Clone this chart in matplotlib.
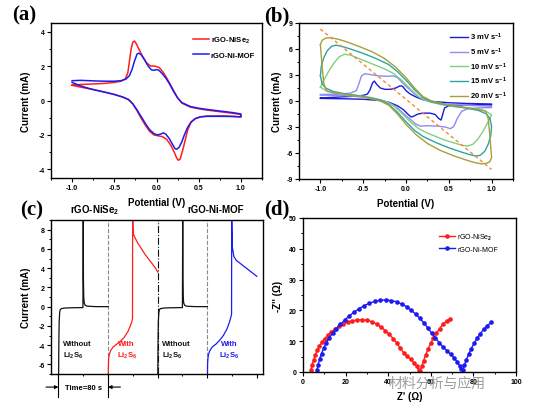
"""
plot.py
=======
Four-panel figure: CV curves, scan-rate CVs, Li2S6 nucleation current, EIS.
"""

import numpy as np
import matplotlib
matplotlib.use("Agg")
import matplotlib.pyplot as plt
from matplotlib.ticker import MultipleLocator, FormatStrFormatter, NullFormatter

# ---------------- data ----------------
# (a) CV loops, (potential V, current mA)
cv_nise2 = np.array([
    (-1.00, 0.90), (-0.90, 0.93), (-0.80, 0.95), (-0.70, 0.97), (-0.60, 1.00), (-0.50, 1.05),
    (-0.42, 1.12), (-0.37, 1.25), (-0.34, 1.60), (-0.32, 2.30), (-0.30, 3.00), (-0.28, 3.40),
    (-0.26, 3.45), (-0.24, 3.30), (-0.21, 3.00), (-0.17, 2.60), (-0.12, 2.20), (-0.07, 2.00),
    (-0.02, 2.00), (0.03, 1.92), (0.07, 1.70), (0.11, 1.40), (0.15, 1.05), (0.20, 0.60),
    (0.25, 0.15), (0.30, -0.15), (0.40, -0.38), (0.50, -0.48), (0.60, -0.56), (0.70, -0.62),
    (0.80, -0.68), (0.90, -0.74), (0.98, -0.80), (1.00, -0.85),
    (1.00, -0.95), (0.90, -0.92), (0.80, -0.90), (0.70, -0.90), (0.60, -0.90), (0.52, -0.95),
    (0.46, -1.05), (0.41, -1.25), (0.37, -1.70), (0.34, -2.30), (0.31, -2.90), (0.28, -3.40),
    (0.26, -3.47), (0.24, -3.35), (0.21, -3.00), (0.17, -2.60), (0.12, -2.25), (0.07, -2.10),
    (0.02, -2.05), (-0.03, -2.00), (-0.08, -1.80), (-0.13, -1.45), (-0.18, -1.05), (-0.23, -0.60),
    (-0.28, -0.20), (-0.33, 0.05), (-0.40, 0.20), (-0.50, 0.35), (-0.60, 0.47), (-0.70, 0.58),
    (-0.80, 0.68), (-0.90, 0.78), (-1.00, 0.88),
])
cv_mof = np.array([
    (-1.00, 1.15), (-0.90, 1.17), (-0.80, 1.15), (-0.70, 1.13), (-0.60, 1.12), (-0.50, 1.12),
    (-0.42, 1.15), (-0.36, 1.25), (-0.32, 1.45), (-0.29, 1.80), (-0.26, 2.30), (-0.23, 2.70),
    (-0.21, 2.75), (-0.18, 2.65), (-0.14, 2.35), (-0.10, 2.00), (-0.06, 1.78), (-0.03, 1.75),
    (0.00, 1.80), (0.03, 1.75), (0.07, 1.55), (0.11, 1.30), (0.15, 1.00), (0.20, 0.55),
    (0.25, 0.15), (0.30, -0.12), (0.40, -0.35), (0.50, -0.45), (0.60, -0.52), (0.70, -0.58),
    (0.80, -0.64), (0.90, -0.70), (1.00, -0.78),
    (1.00, -0.95), (0.90, -0.93), (0.80, -0.92), (0.70, -0.92), (0.60, -0.92), (0.52, -0.95),
    (0.46, -1.05), (0.41, -1.25), (0.37, -1.55), (0.33, -2.00), (0.30, -2.40), (0.27, -2.70),
    (0.24, -2.83), (0.22, -2.80), (0.19, -2.55), (0.15, -2.20), (0.11, -1.95), (0.08, -1.88),
    (0.05, -1.95), (0.01, -2.00), (-0.03, -1.92), (-0.08, -1.70), (-0.13, -1.35), (-0.18, -0.95),
    (-0.23, -0.55), (-0.28, -0.20), (-0.33, 0.05), (-0.40, 0.20), (-0.50, 0.35), (-0.60, 0.47),
    (-0.70, 0.58), (-0.80, 0.70), (-0.90, 0.85), (-1.00, 1.05),
])

# (b) CV loops at different scan rates
cv_3 = np.array([
    (-1.00, 0.35), (-0.80, 0.45), (-0.60, 0.55), (-0.50, 0.65), (-0.45, 0.80), (-0.42, 1.30),
    (-0.39, 2.10), (-0.37, 2.30), (-0.34, 1.90), (-0.30, 1.50), (-0.25, 1.35), (-0.18, 1.35),
    (-0.12, 1.50), (-0.07, 1.75), (-0.04, 1.70), (0.00, 1.20), (0.05, 0.80), (0.12, 0.45),
    (0.20, 0.15), (0.30, -0.05), (0.50, -0.20), (0.70, -0.28), (1.00, -0.35),
    (1.00, -0.45), (0.80, -0.48), (0.60, -0.50), (0.50, -0.55), (0.45, -0.80), (0.43, -1.50),
    (0.41, -2.20), (0.38, -2.00), (0.34, -1.55), (0.28, -1.40), (0.20, -1.40), (0.14, -1.50),
    (0.09, -1.75), (0.06, -1.85), (0.02, -1.50), (-0.03, -1.00), (-0.10, -0.55), (-0.20, -0.15),
    (-0.30, 0.05), (-0.50, 0.20), (-0.70, 0.25), (-1.00, 0.30),
])
cv_5 = np.array([
    (-1.00, 0.75), (-0.80, 0.80), (-0.65, 0.90), (-0.58, 1.20), (-0.55, 2.00), (-0.52, 2.90),
    (-0.48, 3.15), (-0.42, 3.05), (-0.32, 2.90), (-0.22, 2.85), (-0.15, 2.90), (-0.10, 2.70),
    (-0.05, 2.20), (0.00, 1.70), (0.10, 0.80), (0.20, 0.15), (0.30, -0.15), (0.50, -0.40),
    (0.70, -0.50), (1.00, -0.60),
    (1.00, -0.75), (0.85, -0.80), (0.72, -0.90), (0.65, -1.20), (0.60, -2.00), (0.56, -2.90),
    (0.52, -3.20), (0.46, -3.00), (0.36, -2.90), (0.25, -2.85), (0.17, -2.90), (0.12, -2.70),
    (0.06, -2.20), (0.00, -1.70), (-0.10, -0.80), (-0.20, -0.20), (-0.30, 0.15), (-0.50, 0.45),
    (-0.70, 0.60), (-1.00, 0.70),
])
cv_10 = np.array([
    (-1.00, 1.60), (-0.96, 2.40), (-0.90, 3.50), (-0.84, 4.40), (-0.78, 5.10), (-0.72, 5.40),
    (-0.65, 5.30), (-0.55, 4.90), (-0.45, 4.50), (-0.35, 4.10), (-0.25, 3.70), (-0.15, 3.20),
    (-0.05, 2.40), (0.05, 1.40), (0.15, 0.50), (0.25, 0.00), (0.40, -0.40), (0.60, -0.70),
    (0.80, -0.90), (0.92, -1.10), (1.00, -1.60),
    (0.96, -2.40), (0.90, -3.50), (0.84, -4.40), (0.78, -5.00), (0.72, -5.20), (0.65, -5.10),
    (0.55, -4.80), (0.45, -4.50), (0.35, -4.10), (0.25, -3.70), (0.15, -3.20), (0.05, -2.40),
    (-0.05, -1.40), (-0.15, -0.50), (-0.25, 0.00), (-0.40, 0.40), (-0.60, 0.70), (-0.80, 0.90),
    (-0.92, 1.10), (-1.00, 1.60),
])
cv_15 = np.array([
    (-1.00, 2.90), (-0.99, 4.00), (-0.96, 5.00), (-0.92, 5.80), (-0.87, 6.30), (-0.82, 6.45),
    (-0.75, 6.30), (-0.65, 6.00), (-0.50, 5.50), (-0.35, 4.90), (-0.20, 4.20), (-0.10, 3.40),
    (0.00, 2.40), (0.10, 1.30), (0.20, 0.40), (0.30, -0.10), (0.50, -0.50), (0.70, -0.80),
    (0.85, -1.10), (0.94, -1.50), (0.98, -2.00), (1.00, -2.90),
    (0.99, -4.00), (0.96, -5.00), (0.92, -5.80), (0.87, -6.25), (0.82, -6.35), (0.75, -6.20),
    (0.65, -5.90), (0.50, -5.40), (0.35, -4.80), (0.20, -4.10), (0.10, -3.40), (0.00, -2.40),
    (-0.10, -1.30), (-0.20, -0.40), (-0.30, 0.10), (-0.50, 0.50), (-0.70, 0.80), (-0.85, 1.10),
    (-0.94, 1.50), (-0.98, 2.00), (-1.00, 2.90),
])
cv_20 = np.array([
    (-1.00, 6.50), (-0.98, 7.00), (-0.94, 7.25), (-0.88, 7.30), (-0.80, 7.15), (-0.70, 6.85),
    (-0.55, 6.30), (-0.40, 5.70), (-0.25, 4.90), (-0.12, 3.90), (0.00, 2.70), (0.10, 1.50),
    (0.20, 0.50), (0.30, 0.00), (0.50, -0.45), (0.70, -0.75), (0.85, -0.95), (0.93, -1.20),
    (0.96, -2.00), (0.98, -4.00), (1.00, -6.50),
    (0.98, -7.00), (0.94, -7.20), (0.88, -7.25), (0.80, -7.10), (0.70, -6.80), (0.55, -6.30),
    (0.40, -5.70), (0.25, -4.90), (0.12, -3.90), (0.00, -2.70), (-0.10, -1.50), (-0.20, -0.50),
    (-0.30, 0.00), (-0.50, 0.45), (-0.70, 0.75), (-0.85, 0.95), (-0.93, 1.20), (-0.96, 2.00),
    (-0.98, 4.00), (-1.00, 6.50),
])
scan_rates = [3, 5, 10, 15, 20]
peak_guide_x = [-1.0, 1.0]
peak_guide_y = [8.3, -7.9]

# (c) current (mA) vs time (s), four 80 s windows
ca_t1 = [0.3, 0.5, 0.8, 1.2, 2.0, 3.0, 5.0, 10, 20, 39.5, 40.0, 40.3, 40.8, 41.5, 43, 46, 60, 80]
ca_i1 = [-7.2, -5.0, -3.0, -1.5, -0.6, -0.3, -0.2, -0.15, -0.12, -0.1, 9.5, 3.0, 1.0, 0.4, 0.15, 0.05, 0.0, 0.0]
ca_t2 = [80.4, 80.6, 81, 82, 84, 88, 94, 100, 106, 112, 116, 118.5, 119.5, 119.7, 120.5,
         124, 128, 134, 140, 146, 152, 158, 160]
ca_i2 = [-7.2, -6.0, -5.4, -5.0, -4.6, -4.2, -3.9, -3.6, -3.2, -2.6, -2.0, -1.55, -1.2, 9.5, 7.6,
         7.1, 6.6, 6.0, 5.4, 4.9, 4.4, 3.85, 3.6]
ca_t3 = [160.3, 160.5, 160.8, 161.2, 162, 163, 165, 170, 180, 200.0, 200.5, 200.8, 201.3, 202,
         203.5, 206, 220, 240]
ca_i3 = [-7.2, -5.0, -3.0, -1.5, -0.6, -0.3, -0.2, -0.15, -0.12, -0.1, 9.5, 3.0, 1.0, 0.4, 0.15,
         0.05, 0.0, 0.0]
ca_t4 = [240.4, 240.6, 241, 242, 244, 248, 254, 260, 266, 272, 276, 278.5, 279.3, 279.5, 280.5,
         283, 287, 291, 297, 303, 309, 315, 320]
ca_i4 = [-7.2, -6.0, -5.5, -5.0, -4.6, -4.2, -3.9, -3.5, -3.0, -2.3, -1.6, -1.0, -0.8, 9.5, 6.2,
         5.2, 4.8, 4.6, 4.3, 4.0, 3.7, 3.4, 3.15]
window_edges = [80, 160, 240]

# (d) Nyquist plots, (Z' ohm, -Z'' ohm)
eis_nise2 = np.array([
    (3.8, 0.8), (4.3, 2.4), (5.0, 4.0), (5.8, 5.6), (6.7, 7.0), (7.7, 8.3), (8.8, 9.6),
    (10.1, 10.8), (11.6, 11.9), (13.2, 12.9), (15.0, 13.9), (16.9, 14.8), (18.9, 15.6),
    (21.0, 16.2), (23.2, 16.6), (25.5, 16.9), (27.8, 17.0), (30.1, 16.8), (32.4, 16.3),
    (34.6, 15.6), (36.7, 14.6), (38.7, 13.4), (40.6, 12.2), (42.4, 10.8), (44.1, 9.3),
    (45.7, 7.7), (47.3, 6.2), (49.0, 5.1), (50.5, 4.1), (52.0, 3.0), (53.3, 1.8), (54.3, 0.8),
    (55.0, 0.3), (55.8, 1.8), (56.6, 3.6), (57.6, 5.6), (58.7, 7.5), (59.9, 9.3), (61.2, 11.0),
    (62.6, 12.6), (64.1, 14.1), (65.7, 15.5), (67.4, 16.6), (69.0, 17.3),
])
eis_mof = np.array([
    (6.6, 0.7), (7.1, 2.4), (7.8, 4.2), (8.7, 6.0), (9.7, 7.7), (10.9, 9.4), (12.3, 11.0),
    (13.9, 12.6), (15.7, 14.1), (17.6, 15.5), (19.6, 16.9), (21.7, 18.2), (23.9, 19.4),
    (26.2, 20.5), (28.6, 21.5), (31.1, 22.3), (33.6, 22.9), (36.2, 23.3), (38.8, 23.4),
    (41.4, 23.2), (43.9, 22.8), (46.3, 22.1), (48.6, 21.2), (50.8, 20.1), (52.9, 18.8),
    (54.9, 17.4), (56.8, 15.9), (58.6, 14.3), (60.4, 12.6), (62.2, 11.0), (64.0, 9.5),
    (65.8, 8.1), (67.6, 6.9), (69.3, 5.8), (70.9, 4.6), (72.4, 3.3), (73.5, 2.0), (74.3, 0.9),
    (75.0, 0.5), (75.8, 2.2), (76.7, 4.0), (77.8, 5.8), (79.0, 7.6), (80.3, 9.3), (81.7, 10.9),
    (83.2, 12.4), (84.8, 13.8), (86.5, 15.0), (88.3, 16.1),
])

# ---------------- style ----------------
plt.rcParams["font.family"] = ["Liberation Sans", "DejaVu Sans"]
plt.rcParams["font.weight"] = "bold"
plt.rcParams["axes.labelweight"] = "bold"
plt.rcParams["axes.unicode_minus"] = False
plt.rcParams["mathtext.fontset"] = "custom"
plt.rcParams["mathtext.default"] = "bf"
plt.rcParams["mathtext.bf"] = "Liberation Sans:bold"
plt.rcParams["mathtext.rm"] = "Liberation Sans:bold"
plt.rcParams["axes.linewidth"] = 1.0

RED = "#ff1c1c"
BLUE = "#1c1cf0"
RATE_COLORS = ["#1a1ad8", "#8c8cf2", "#80cf80", "#2fa3a0", "#a6a03c"]
TICK_FS = 5
LABEL_FS = 7


def style_axes(ax, xmaj, xmin, ymaj, ymin):
    ax.xaxis.set_major_locator(MultipleLocator(xmaj))
    ax.xaxis.set_minor_locator(MultipleLocator(xmin))
    ax.yaxis.set_major_locator(MultipleLocator(ymaj))
    ax.yaxis.set_minor_locator(MultipleLocator(ymin))
    ax.tick_params(which="major", direction="out", length=3, width=0.8,
                   labelsize=TICK_FS, pad=1.5)
    ax.tick_params(which="minor", direction="out", length=1.6, width=0.7)


fig = plt.figure(figsize=(5.33, 4.10), dpi=100)
W, H = 533.0, 410.0


def add_axes_px(left, top, right, bottom):
    return fig.add_axes([left / W, 1 - bottom / H, (right - left) / W, (bottom - top) / H])


# ---------------- (a) ----------------
ax_a = add_axes_px(51, 24, 262, 179)
ax_a.plot(cv_nise2[:, 0], cv_nise2[:, 1], color=RED, lw=1.1, label="rGO-NiSe$_2$")
ax_a.plot(cv_mof[:, 0], cv_mof[:, 1], color=BLUE, lw=1.1, label="rGO-Ni-MOF")
ax_a.set_xlim(-1.25, 1.25)
ax_a.set_ylim(-4.5, 4.5)
style_axes(ax_a, 0.5, 0.25, 2, 1)
ax_a.xaxis.set_major_formatter(FormatStrFormatter("%.1f"))
ax_a.set_xlabel("Potential (V)", fontsize=LABEL_FS, labelpad=4)
ax_a.set_ylabel("Current (mA)", fontsize=LABEL_FS, labelpad=5)
ax_a.legend(loc="upper left", bbox_to_anchor=(0.675, 0.925), frameon=False, fontsize=5.5,
            handlelength=2.0, handletextpad=0.3, labelspacing=0.9, borderpad=0, borderaxespad=0)

# ---------------- (b) ----------------
ax_b = add_axes_px(299, 24, 513, 180)
for loop, rate, col in zip([cv_3, cv_5, cv_10, cv_15, cv_20], scan_rates, RATE_COLORS):
    ax_b.plot(loop[:, 0], loop[:, 1], color=col, lw=1.0, label=f"{rate} mV s$^{{-1}}$")
ax_b.plot(peak_guide_x, peak_guide_y, color="#f28a35", lw=1.0, ls=(0, (2.5, 2)))
ax_b.set_xlim(-1.25, 1.25)
ax_b.set_ylim(-9, 9)
style_axes(ax_b, 0.5, 0.25, 3, 1.5)
ax_b.xaxis.set_major_formatter(FormatStrFormatter("%.1f"))
ax_b.set_xlabel("Potential (V)", fontsize=LABEL_FS, labelpad=4)
ax_b.set_ylabel("Current (mA)", fontsize=LABEL_FS, labelpad=3)
ax_b.legend(loc="upper left", bbox_to_anchor=(0.705, 0.95), frameon=False, fontsize=5.5,
            handlelength=2.4, handletextpad=0.3, labelspacing=0.45, borderpad=0, borderaxespad=0)

# ---------------- (c) ----------------
ax_c = add_axes_px(51, 221, 263, 375)
ax_c.plot(ca_t1, ca_i1, color="#111111", lw=0.9)
ax_c.plot(ca_t2, ca_i2, color=RED, lw=0.9)
ax_c.plot(ca_t3, ca_i3, color="#111111", lw=0.9)
ax_c.plot(ca_t4, ca_i4, color=BLUE, lw=0.9)
for edge, style, col in zip(window_edges, ["--", "-.", "--"], ["#8a8a8a", "#111111", "#8a8a8a"]):
    ax_c.axvline(edge, color=col, ls=style, lw=0.8, zorder=0)
ax_c.set_xlim(-12, 330)
ax_c.set_ylim(-7, 9)
style_axes(ax_c, 80, 40, 2, 1)
ax_c.xaxis.set_major_formatter(NullFormatter())
ax_c.set_ylabel("Current (mA)", fontsize=LABEL_FS, labelpad=5)

trans_c = ax_c.get_xaxis_transform()
ax_c.text(59, 1.07, "rGO-NiSe$_2$", transform=trans_c, ha="center", va="center", fontsize=7)
ax_c.text(253, 1.07, "rGO-Ni-MOF", transform=trans_c, ha="center", va="center", fontsize=7)
ax_c.text(7, -4.5, "Without\nLi$_2$S$_6$", color="#111111", fontsize=5.5, ha="left", va="center",
          linespacing=1.5)
ax_c.text(110, -4.5, "With\nLi$_2$S$_6$", color=RED, fontsize=5.5, ha="center", va="center",
          linespacing=1.5)
ax_c.text(167, -4.5, "Without\nLi$_2$S$_6$", color="#111111", fontsize=5.5, ha="left", va="center",
          linespacing=1.5)
ax_c.text(275, -4.5, "With\nLi$_2$S$_6$", color=BLUE, fontsize=5.5, ha="center", va="center",
          linespacing=1.5)

# time bracket under the first window
for t in (0, window_edges[0]):
    ax_c.plot([t, t], [0, -0.15], transform=trans_c, clip_on=False, color="black", lw=0.8)
arrow = dict(arrowstyle="-|>", lw=0.8, color="black", mutation_scale=5, shrinkA=0, shrinkB=0)
ax_c.annotate("", xy=(0, -0.085), xytext=(-20, -0.085), xycoords=trans_c, arrowprops=arrow)
ax_c.annotate("", xy=(window_edges[0], -0.085), xytext=(100, -0.085), xycoords=trans_c,
              arrowprops=arrow)
ax_c.text(40, -0.085, "Time=80 s", transform=trans_c, ha="center", va="center", fontsize=5.5)

# ---------------- (d) ----------------
ax_d = add_axes_px(303, 219, 516, 373)
ax_d.plot(eis_nise2[:, 0], eis_nise2[:, 1], color=RED, lw=1.0, marker="o", ms=2.3,
          label="rGO-NiSe$_2$")
ax_d.plot(eis_mof[:, 0], eis_mof[:, 1], color=BLUE, lw=1.0, marker="o", ms=2.3,
          label="rGO-Ni-MOF")
ax_d.set_xlim(0, 100)
ax_d.set_ylim(0, 50)
style_axes(ax_d, 20, 10, 10, 5)
ax_d.set_xlabel("Z' (\u03a9)", fontsize=LABEL_FS, labelpad=4)
ax_d.set_ylabel("-Z'' (\u03a9)", fontsize=LABEL_FS, labelpad=4)
ax_d.legend(loc="upper left", bbox_to_anchor=(0.64, 0.91), frameon=False,
            prop={"size": 5, "weight": "normal"}, handlelength=2.3, handletextpad=0.3,
            labelspacing=0.5, borderpad=0, borderaxespad=0, numpoints=1)

# ---------------- panel letters ----------------
for letter, x, y in [("(a)", 12, 15), ("(b)", 264, 16), ("(c)", 20, 210), ("(d)", 264, 209)]:
    fig.text(x / W, 1 - y / H, letter, fontsize=15, fontweight="bold",
             family=["Liberation Serif", "DejaVu Serif"], ha="left", va="center")

# watermark
fig.text(437 / W, 1 - 384 / H, "材料分析与应用", fontsize=10, color="#8a8a8a", alpha=0.85,
         family=["Noto Sans CJK SC", "DejaVu Sans"], fontweight="normal", ha="center", va="center")

fig.savefig("out.png", dpi=100)
